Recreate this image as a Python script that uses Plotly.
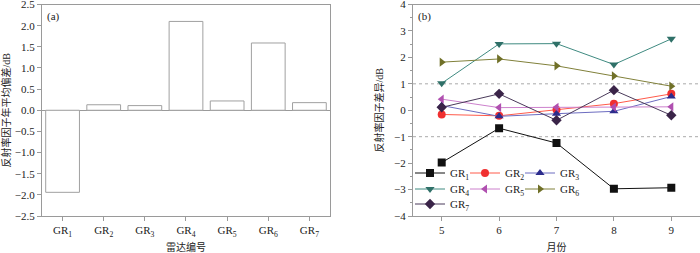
import plotly.graph_objects as go

# ---- data ----
radars = ["GR<sub>1</sub>", "GR<sub>2</sub>", "GR<sub>3</sub>", "GR<sub>4</sub>",
          "GR<sub>5</sub>", "GR<sub>6</sub>", "GR<sub>7</sub>"]
annual_bias = [-1.94, 0.13, 0.11, 2.10, 0.22, 1.59, 0.18]

months = [5, 6, 7, 8, 9]
gr1 = [-1.98, -0.68, -1.24, -2.97, -2.93]
gr2 = [-0.16, -0.21, 0.02, 0.25, 0.62]
gr3 = [0.18, -0.23, -0.13, -0.04, 0.52]
gr4 = [1.02, 2.51, 2.52, 1.73, 2.70]
gr5 = [0.42, 0.10, 0.11, 0.12, 0.13]
gr6 = [1.82, 1.94, 1.68, 1.30, 0.91]
gr7 = [0.11, 0.62, -0.38, 0.76, -0.19]
ref_levels = [1, -1]

SERIF = "Liberation Serif, Times New Roman, Noto Sans CJK SC, serif"
AX = "#9a9a9a"

fig = go.Figure()

fig.add_trace(go.Bar(x=radars, y=annual_bias, width=0.82,
                     marker=dict(color="white", line=dict(color="#a0a0a0", width=1)),
                     showlegend=False, xaxis="x", yaxis="y"))

series = [
    ("GR<sub>1</sub>", gr1, "#111111", "#111111", "square", "legend", None),
    ("GR<sub>2</sub>", gr2, "#ff5a4a", "#f03030", "circle", "legend", None),
    ("GR<sub>3</sub>", gr3, "#6c6cc0", "#2c2c8c", "triangle-up", "legend", 26),
    ("GR<sub>4</sub>", gr4, "#3f8a80", "#2f7068", "triangle-down", "legend2", None),
    ("GR<sub>5</sub>", gr5, "#cc80cc", "#b050b0", "triangle-left", "legend2", None),
    ("GR<sub>6</sub>", gr6, "#80803a", "#707028", "triangle-right", "legend2", 26),
    ("GR<sub>7</sub>", gr7, "#4a3a5a", "#3a2448", "diamond", "legend3", 26),
]
for name, vals, lc, mc, sym, lg, lw in series:
    fig.add_trace(go.Scatter(x=months, y=vals, name=name, mode="lines+markers",
                             line=dict(color=lc, width=1),
                             marker=dict(symbol=sym, size=8, color=mc),
                             xaxis="x2", yaxis="y2", legend=lg, legendwidth=lw))

for lv in ref_levels:
    fig.add_shape(type="line", xref="x2 domain", yref="y2", x0=0, x1=1, y0=lv, y1=lv,
                  line=dict(color="#aaaaaa", width=1, dash="dot"), layer="below")

ydom = [0.1462, 0.9822]
tickfont = dict(family=SERIF, size=11, color="#222")
titlefont = dict(family=SERIF, size=10, color="#222")

legend_common = dict(orientation="h", xanchor="left", yanchor="middle",
                     bgcolor="rgba(0,0,0,0)", borderwidth=0,
                     font=dict(family=SERIF, size=11, color="#222"),
                     entrywidth=10, entrywidthmode="pixels", itemwidth=30)

fig.update_layout(
    template="none",
    width=700, height=253,
    margin=dict(l=0, r=0, t=0, b=0, autoexpand=False),
    paper_bgcolor="white", plot_bgcolor="white",
    showlegend=True,
    xaxis=dict(domain=[0.06, 0.4714], range=[-0.5, 6.5], showline=True, linecolor=AX,
               linewidth=1, mirror=True, ticks="outside", ticklen=4, tickcolor=AX,
               tickfont=tickfont, showgrid=False, zeroline=False, automargin=False,
               title=dict(text="雷达编号", font=titlefont, standoff=11), anchor="y"),
    yaxis=dict(domain=ydom, range=[-2.5, 2.5], dtick=0.5, tickformat=".1f",
               showline=True, linecolor=AX, linewidth=1, mirror=True,
               ticks="outside", ticklen=4, tickcolor=AX, tickfont=tickfont,
               ticklabeloverflow="allow", automargin=False,
               showgrid=False, zeroline=True, zerolinecolor=AX, zerolinewidth=1,
               title=dict(text="反射率因子年平均偏差/dB", font=titlefont, standoff=4), anchor="x"),
    xaxis2=dict(domain=[0.59, 1.0], range=[4.5, 9.5], dtick=1, showline=True, linecolor=AX,
                linewidth=1, mirror=True, ticks="outside", ticklen=4, tickcolor=AX,
                tickfont=tickfont, showgrid=False, zeroline=False, automargin=False,
                title=dict(text="月份", font=titlefont, standoff=11), anchor="y2"),
    yaxis2=dict(domain=ydom, range=[-4, 4], dtick=1, showline=True, linecolor=AX,
                linewidth=1, mirror=False, ticks="outside", ticklen=4, tickcolor=AX,
                tickfont=tickfont, showgrid=False, zeroline=False, automargin=False,
                ticklabeloverflow="allow",
                minor=dict(dtick=0.5, ticks="outside", ticklen=2, tickcolor=AX),
                title=dict(text="反射率因子差异/dB", font=titlefont, standoff=8), anchor="x2"),
    legend=dict(x=410/700, y=1 - 173/253, **legend_common),
    legend2=dict(x=410/700, y=1 - 189/253, **legend_common),
    legend3=dict(x=410/700, y=1 - 204/253, **legend_common),
    annotations=[
        dict(text="(a)", xref="x domain", yref="y domain", x=0.01, y=0.985,
             xanchor="left", yanchor="top", showarrow=False, font=dict(family=SERIF, size=11, color="#222")),
        dict(text="(b)", xref="x2 domain", yref="y2 domain", x=0.01, y=0.985,
             xanchor="left", yanchor="top", showarrow=False, font=dict(family=SERIF, size=11, color="#222")),
    ],
)

fig.write_html("out.html", config={"displayModeBar": False},
               post_script="document.body.style.margin='0';document.body.style.padding='0';")
